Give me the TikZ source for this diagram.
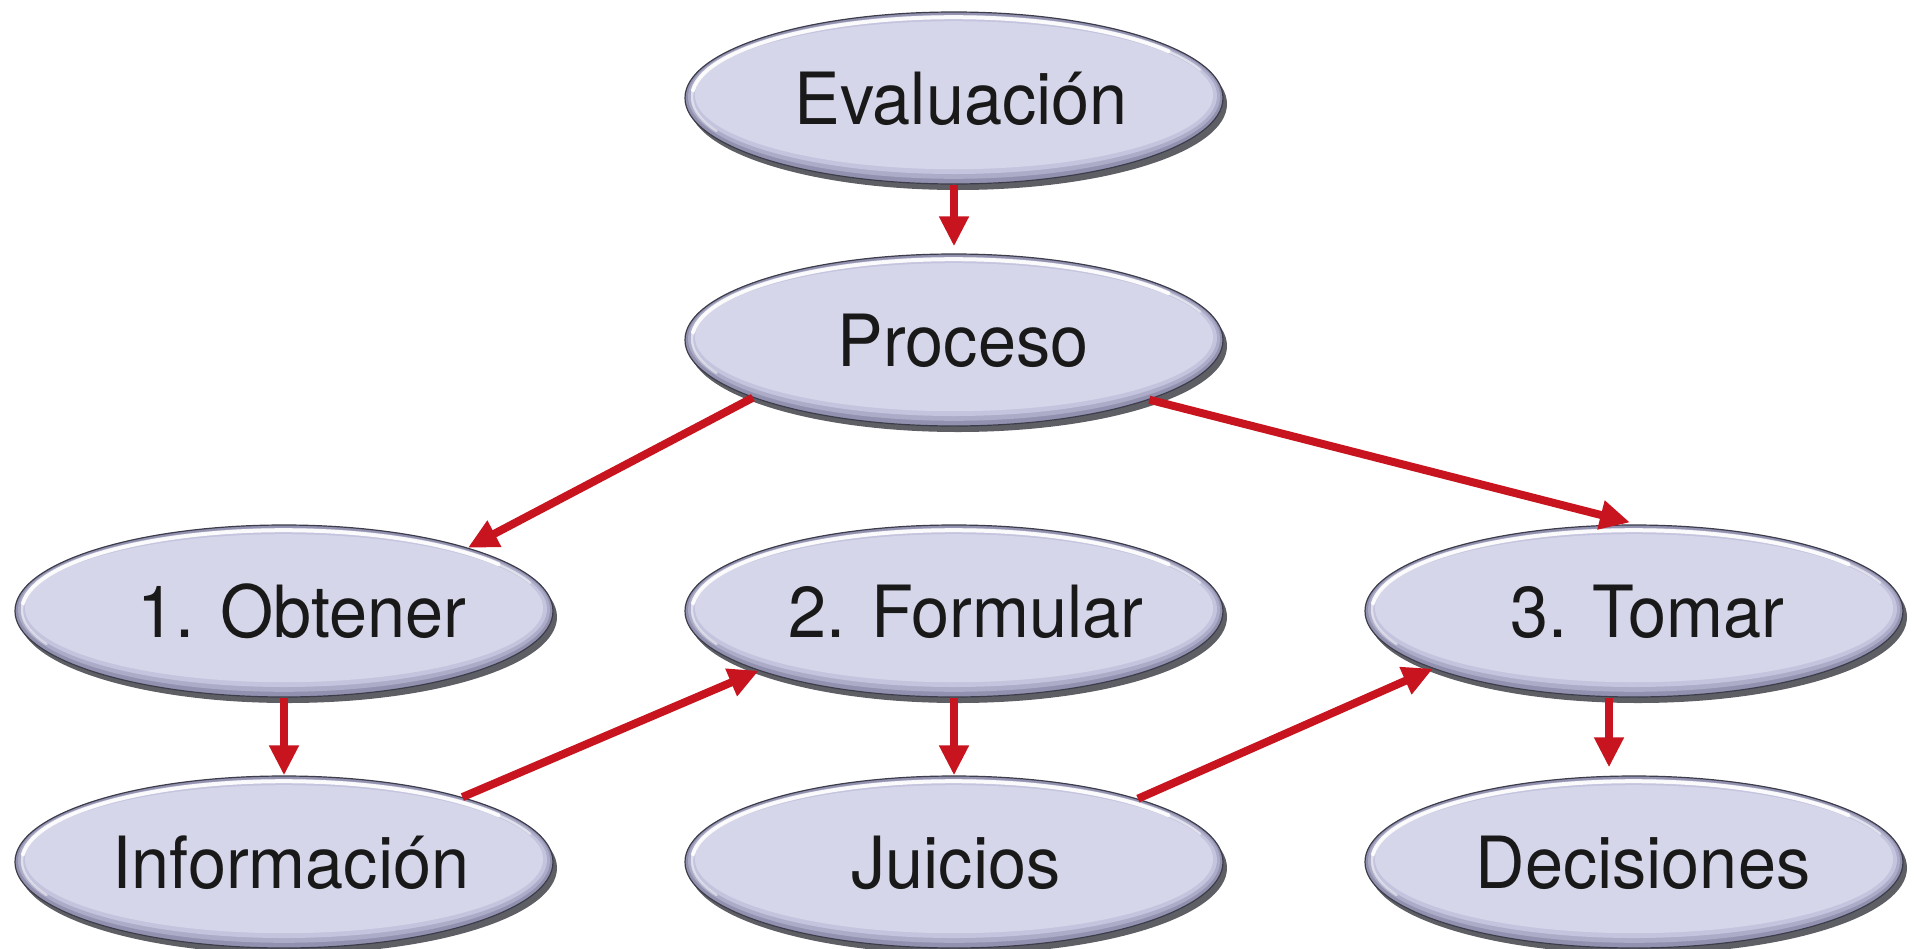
\documentclass[tikz,border=0pt]{standalone}
\usepackage{fontspec}
\setmainfont{TeX Gyre Heros}[FakeStretch=0.95]
\usetikzlibrary{shapes.geometric,arrows.meta,shadows}
\definecolor{bodyc}{HTML}{D6D6EA}
\definecolor{rimA}{HTML}{9292B0}
\definecolor{rimB}{HTML}{ACACC8}
\definecolor{rimC}{HTML}{C4C4DE}
\definecolor{outl}{HTML}{3C3C4A}
\definecolor{shad}{HTML}{4C4C54}
\definecolor{arrred}{HTML}{C8141E}
\newcommand{\tsh}[1]{\hspace*{#1pt}}
\begin{document}
\begin{tikzpicture}[x=0.5pt,y=-0.5pt,
  bub/.style={ellipse, minimum width=269pt, minimum height=86pt, inner sep=0pt,
    draw=outl, line width=0.6pt, fill=bodyc, text height=26pt, text depth=0pt,
    font=\fontsize{36}{40}\selectfont, text=black!90,
    drop shadow={shadow xshift=2pt, shadow yshift=-3pt, fill=shad, opacity=0.9},
    path picture={
      \coordinate (pc) at (path picture bounding box.center);
      \fill[rimA] (pc) ellipse (134.5pt and 43pt);
      \fill[rimB] ([yshift=0.6pt]pc) ellipse (133pt and 41pt);
      \fill[rimC] ([yshift=1pt]pc) ellipse (131.5pt and 39pt);
      \fill[bodyc] ([yshift=1.4pt]pc) ellipse (129.5pt and 37pt);
      \draw[white, line width=1.2pt, opacity=0.5, line cap=round] ([yshift=0.4pt]pc) ++(205:131pt and 40pt)
        arc[start angle=205, end angle=20, x radius=131pt, y radius=40pt];
      \draw[white, line width=2pt, opacity=0.9, line cap=round] ([yshift=0.4pt]pc) ++(175:131pt and 40pt)
        arc[start angle=175, end angle=35, x radius=131pt, y radius=40pt];
    }},
  arr/.style={draw=arrred, line width=4pt, -{Triangle[length=15pt,width=14pt]}}]
\useasboundingbox (0,0) rectangle (1917,948);
\node[bub] (eva) at (954,98) {\tsh{7}Evaluación};
\node[bub] (pro) at (954,340) {\tsh{9}Proceso};
\node[bub] (obt) at (284,611) {\tsh{18}1. Obtener};
\node[bub] (frm) at (954,611) {\tsh{12}2. Formular};
\node[bub] (tom) at (1634,611) {\tsh{13}3. Tomar};
\node[bub] (inf) at (284,862) {\tsh{7}Información};
\node[bub] (jui) at (954,862) {\tsh{2}Juicios};
\node[bub] (dec) at (1634,862) {\tsh{9}Decisiones};
\draw[arr] (eva.south) -- ([yshift=3.5pt]pro.north);
\draw[arr] (pro.196) -- (obt.19);
\draw[arr] (pro.343) -- ([xshift=-2pt,yshift=1pt]tom.north);
\draw[arr] (obt.south) -- (inf.north);
\draw[arr] (inf.20) -- (frm.197);
\draw[arr] (frm.south) -- (jui.north);
\draw[arr] (jui.19) -- (tom.196);
\draw[arr] ([xshift=-12.5pt]tom.south) -- ([xshift=-12.5pt,yshift=4pt]dec.north);
\end{tikzpicture}
\end{document}
